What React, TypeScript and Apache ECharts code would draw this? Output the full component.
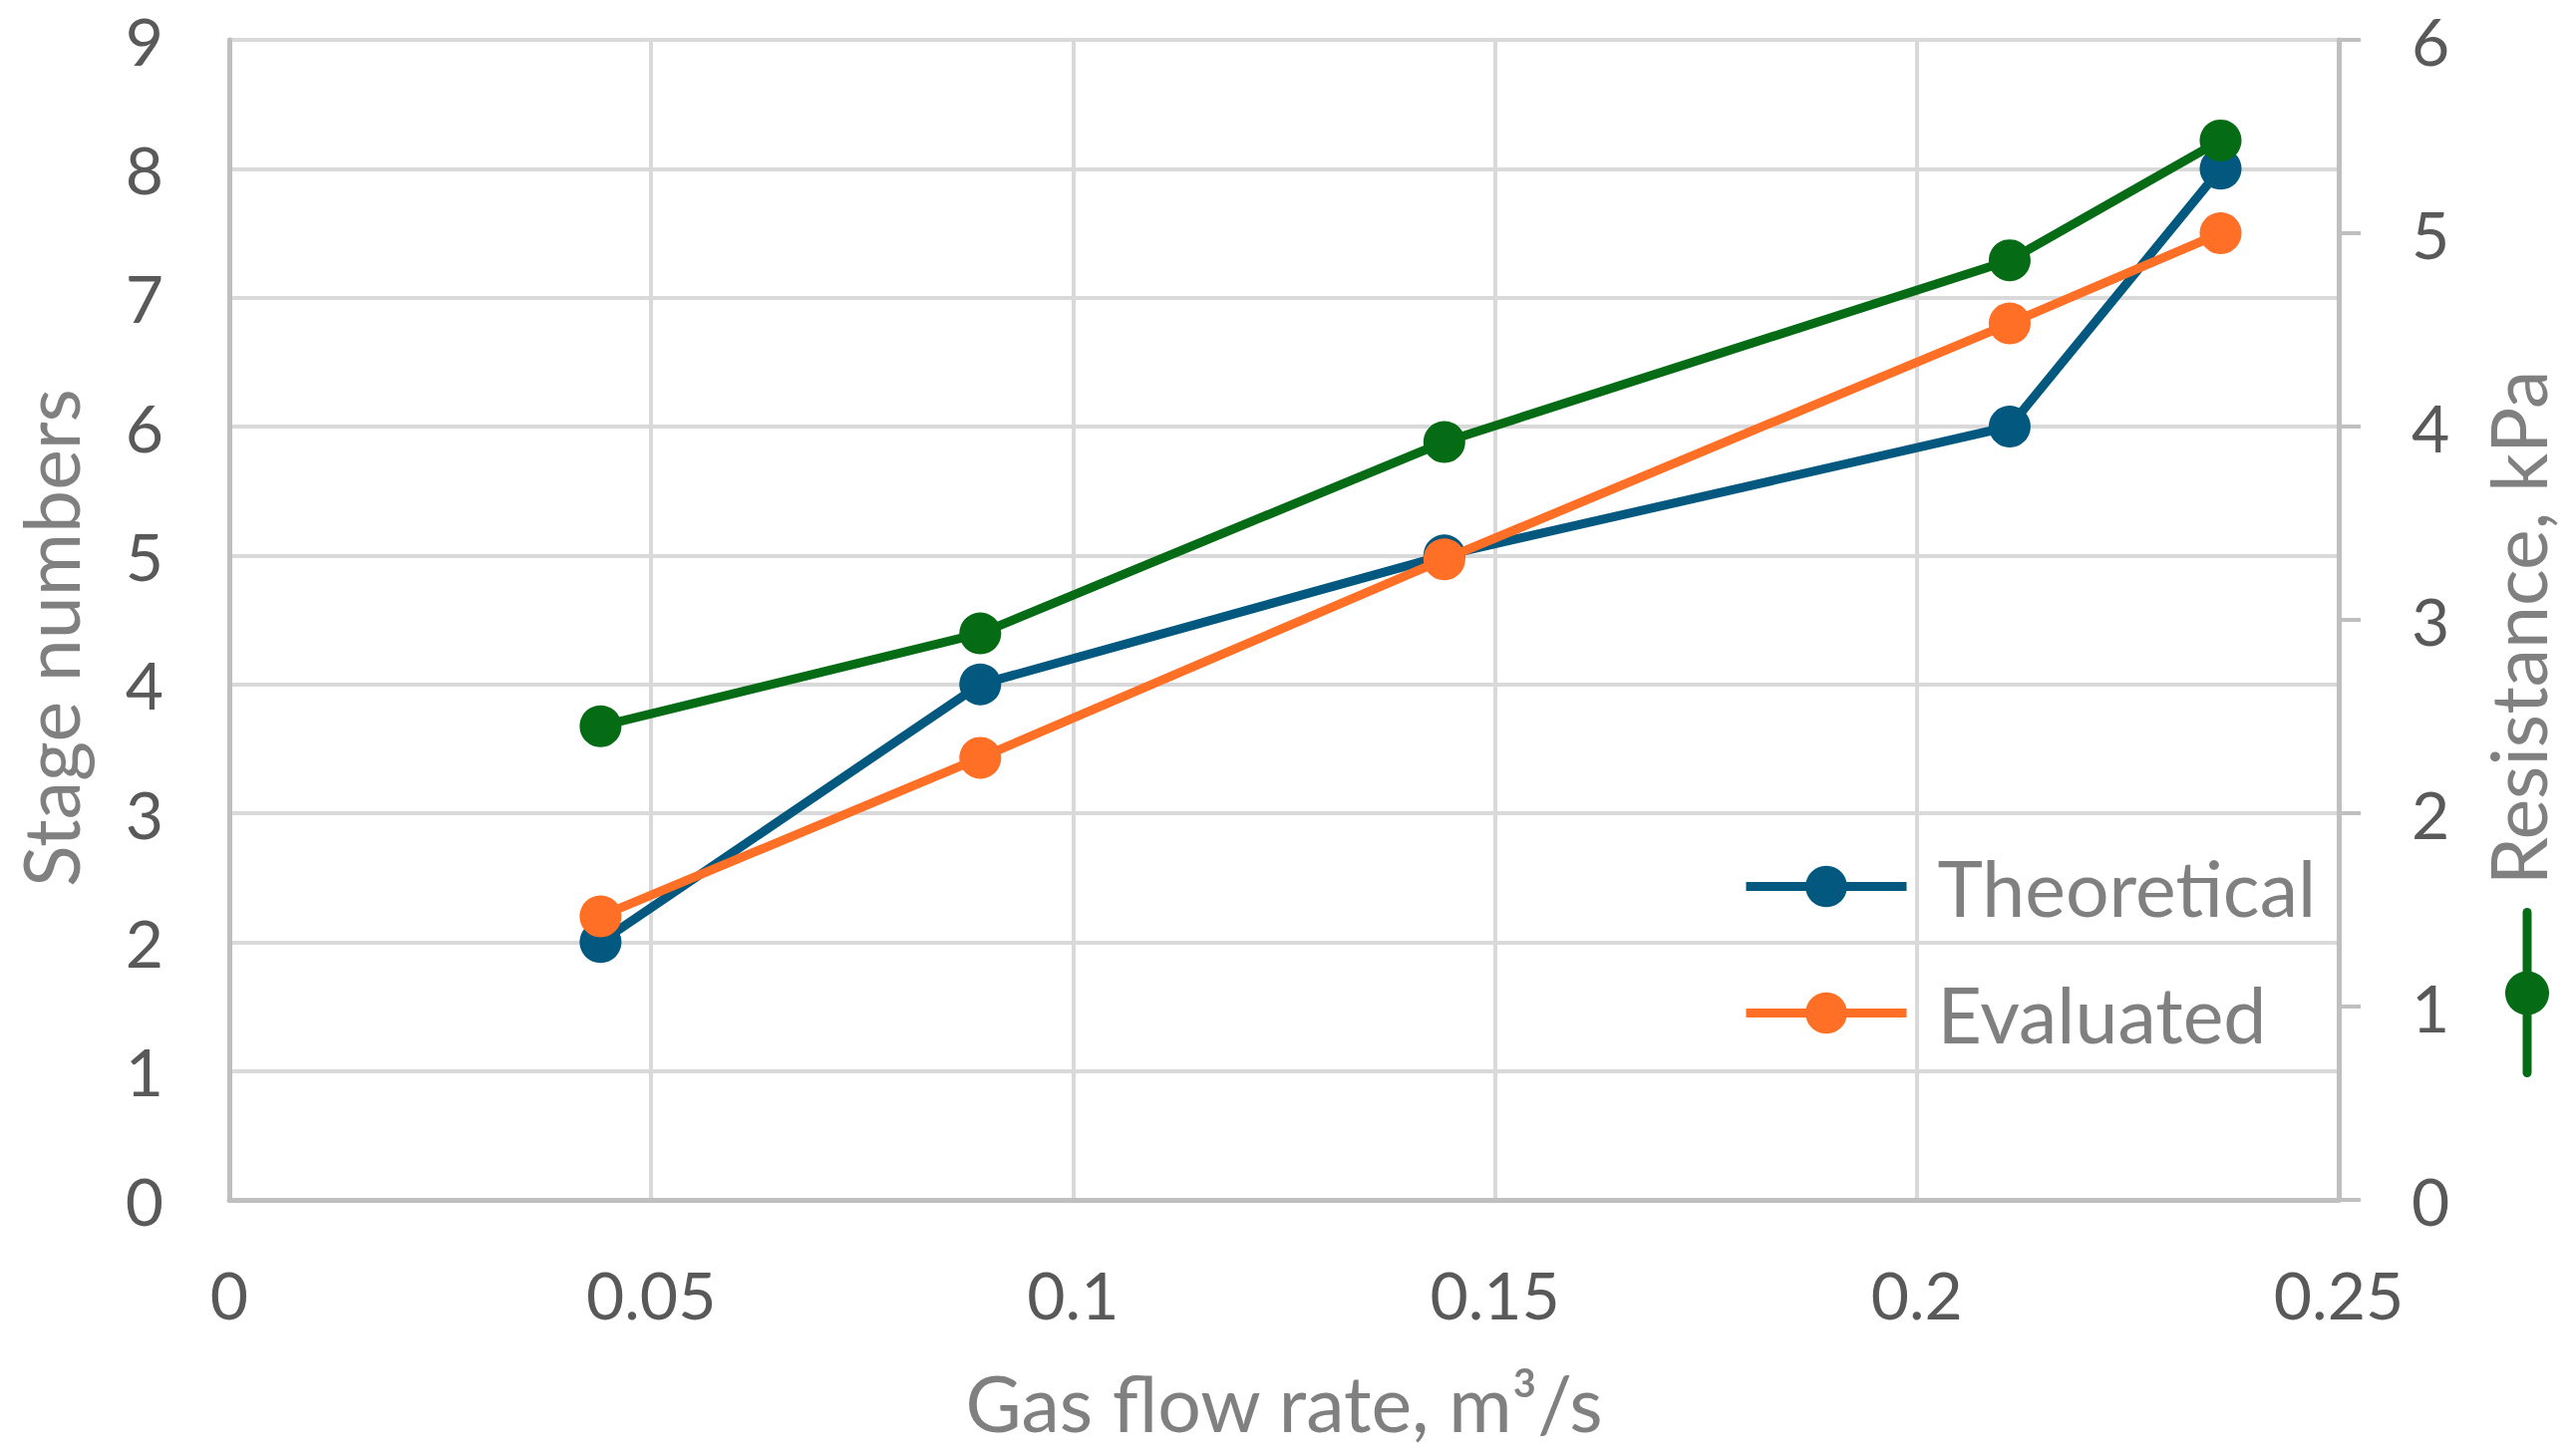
import React, { useEffect, useRef } from "react";
import * as echarts from "echarts";

// ---- Data ----
const flowRate = [0.044, 0.089, 0.144, 0.211, 0.236]; // m³/s
const theoretical = [2, 4, 5, 6, 8]; // stage numbers
const evaluated = [2.2, 3.43, 4.97, 6.8, 7.5]; // stage numbers
const resistance = [2.45, 2.93, 3.92, 4.86, 5.48]; // kPa

const seriesNames = ["Theoretical", "Evaluated", "Resistance"];
const xAxisTitle = "Gas flow rate, m³/s";
const leftAxisTitle = "Stage numbers";
const rightAxisTitle = "Resistance, kPa";

const COLORS = {
  theoretical: "#02587F",
  evaluated: "#FF6F26",
  resistance: "#056B14",
  grid: "#D9D9D9",
  axis: "#BFBFBF",
  tick: "#595959",
  title: "#808080",
};

const FONT = "Lato, 'Noto Sans', sans-serif";

const pairs = (xs: number[], ys: number[]) => xs.map((x, i) => [x, ys[i]]);

export default function App() {
  const ref = useRef<HTMLDivElement | null>(null);

  useEffect(() => {
    document.body.style.margin = "0";
    if (!ref.current) return;
    const chart = echarts.init(ref.current, undefined, { renderer: "svg" });

    const lineCommon = (color: string) => ({
      type: "line" as const,
      symbol: "circle",
      symbolSize: 42,
      lineStyle: { color, width: 9 },
      itemStyle: { color },
      emphasis: { disabled: true },
    });

    const legendCommon = (color: string) => ({
      orient: "vertical" as const,
      itemWidth: 161,
      itemHeight: 52,
      padding: 0,
      selectedMode: false,
      lineStyle: { color, width: 9 },
      itemStyle: { color },
      textStyle: {
        fontFamily: FONT,
        fontSize: 77,
        color: COLORS.title,
        padding: [0, 0, 0, 26],
      },
    });

    const titleStyle = { fontFamily: FONT, fontSize: 77, color: COLORS.title };

    chart.setOption({
      animation: false,
      backgroundColor: "#ffffff",
      grid: {
        left: 230,
        right: 236,
        top: 40,
        bottom: 257,
        containLabel: false,
        outerBoundsMode: "none",
      },
      legend: [
        { ...legendCommon(COLORS.theoretical), data: [seriesNames[0]], left: 1747, top: 851 },
        { ...legendCommon(COLORS.evaluated), data: [seriesNames[1]], left: 1747, top: 978 },
      ],
      xAxis: {
        type: "value",
        min: 0,
        max: 0.25,
        interval: 0.05,
        name: xAxisTitle,
        nameLocation: "middle",
        nameGap: 164,
        nameTextStyle: titleStyle,
        axisLine: { show: true, lineStyle: { color: COLORS.axis, width: 5 } },
        axisTick: { show: false },
        axisLabel: {
          margin: 61,
          fontFamily: FONT,
          fontSize: 66,
          color: COLORS.tick,
          formatter: (v: number) => String(parseFloat(v.toFixed(2))),
        },
        splitLine: { show: true, lineStyle: { color: COLORS.grid, width: 4 } },
      },
      yAxis: [
        {
          type: "value",
          position: "left",
          min: 0,
          max: 9,
          interval: 1,
          name: leftAxisTitle,
          nameLocation: "middle",
          nameRotate: 90,
          nameGap: 140,
          nameTextStyle: { ...titleStyle, lineHeight: 80, padding: [0, 36, 0, 0] },
          axisLine: { show: true, lineStyle: { color: COLORS.axis, width: 5 } },
          axisTick: { show: false },
          axisLabel: { margin: 66, fontFamily: FONT, fontSize: 66, color: COLORS.tick },
          splitLine: { show: true, lineStyle: { color: COLORS.grid, width: 4 } },
        },
        {
          type: "value",
          position: "right",
          min: 0,
          max: 6,
          interval: 1,
          name: rightAxisTitle,
          nameLocation: "middle",
          nameRotate: 90,
          nameGap: 140,
          nameTextStyle: { ...titleStyle, padding: [0, 16, 0, 0] },
          axisLine: { show: true, lineStyle: { color: COLORS.axis, width: 5 } },
          axisTick: {
            show: true,
            inside: false,
            length: 22,
            lineStyle: { color: COLORS.axis, width: 4 },
          },
          axisLabel: { margin: 73, fontFamily: FONT, fontSize: 66, color: COLORS.tick },
          splitLine: { show: false },
        },
      ],
      series: [
        {
          ...lineCommon(COLORS.theoretical),
          name: seriesNames[0],
          yAxisIndex: 0,
          data: pairs(flowRate, theoretical),
          z: 2,
        },
        {
          ...lineCommon(COLORS.evaluated),
          name: seriesNames[1],
          yAxisIndex: 0,
          data: pairs(flowRate, evaluated),
          z: 3,
        },
        {
          ...lineCommon(COLORS.resistance),
          name: seriesNames[2],
          yAxisIndex: 1,
          data: pairs(flowRate, resistance),
          z: 4,
        },
      ],
      graphic: [
        {
          type: "group",
          left: 2513,
          top: 911,
          children: [
            {
              type: "line",
              shape: { x1: 22, y1: 0, x2: 22, y2: 161 },
              style: { stroke: COLORS.resistance, lineWidth: 9, lineCap: "round" },
            },
            {
              type: "circle",
              shape: { cx: 22, cy: 81, r: 22 },
              style: { fill: COLORS.resistance },
            },
          ],
        },
      ],
    });

    return () => chart.dispose();
  }, []);

  return <div ref={ref} style={{ width: 2582, height: 1461 }} />;
}
